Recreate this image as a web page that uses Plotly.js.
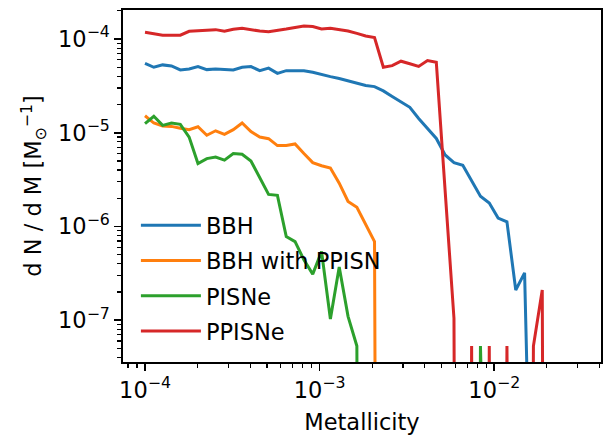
<!DOCTYPE html>
<html><head><meta charset="utf-8">
<script src="https://cdn.plot.ly/plotly-3.0.1.min.js"></script>
<style>html,body{margin:0;padding:0;background:#fff}</style>
</head><body>
<div id="chart" style="width:603px;height:435px"></div>
<script>
// Metallicity grid (x values)
const metallicity = [
  1.0000e-4, 1.1234e-4, 1.2621e-4, 1.4179e-4, 1.5929e-4, 1.7895e-4, 2.0104e-4, 2.2585e-4, 2.5373e-4, 2.8505e-4,
  3.2023e-4, 3.5976e-4, 4.0417e-4, 4.5405e-4, 5.1010e-4, 5.7306e-4, 6.4379e-4, 7.2325e-4, 8.1253e-4, 9.1282e-4,
  1.0255e-3, 1.1521e-3, 1.2943e-3, 1.4540e-3, 1.6335e-3, 1.8351e-3, 2.0616e-3, 2.3161e-3, 2.6019e-3, 2.9231e-3,
  3.2839e-3, 3.6892e-3, 4.1445e-3, 4.6561e-3, 5.2308e-3, 5.8764e-3, 6.6017e-3, 7.4166e-3, 8.3320e-3, 9.3604e-3,
  1.0516e-2, 1.1814e-2, 1.3272e-2, 1.4910e-2, 1.6750e-2, 1.8818e-2, 2.1141e-2, 2.3750e-2, 2.6681e-2, 3.0000e-2
];
const bbh = [
  5.5e-5, 5.0e-5, 5.3e-5, 5.16e-5, 4.68e-5, 4.8e-5, 5.08e-5, 4.72e-5, 4.8e-5, 4.75e-5,
  4.68e-5, 5.0e-5, 5.08e-5, 4.6e-5, 4.9e-5, 4.3e-5, 4.6e-5, 4.6e-5, 4.6e-5, 4.42e-5,
  4.17e-5, 3.97e-5, 3.79e-5, 3.6e-5, 3.39e-5, 3.19e-5, 3.11e-5, 2.8e-5, 2.44e-5, 2.12e-5,
  1.87e-5, 1.42e-5, 1.11e-5, 8.7e-6, 5.8e-6, 4.8e-6, 4.5e-6, 3.1e-6, 2.1e-6, 1.78e-6,
  1.23e-6, 1.12e-6, 2.1e-7, 3.2e-7, 0, 0, 0, 0, 0, 0
];
const bbhWithPpisn = [
  1.52e-5, 1.27e-5, 1.18e-5, 1.17e-5, 1.12e-5, 1.08e-5, 1.16e-5, 9.4e-6, 1.05e-5, 9.6e-6,
  1.08e-5, 1.27e-5, 1.03e-5, 9.0e-6, 8.65e-6, 7.3e-6, 7.3e-6, 7.6e-6, 6.0e-6, 4.8e-6,
  4.45e-6, 4.2e-6, 2.9e-6, 1.85e-6, 1.6e-6, 1.07e-6, 6.9e-7, 0, 0, 0,
  0, 0, 0, 0, 0, 0, 0, 0, 0, 0,
  0, 0, 0, 0, 0, 0, 0, 0, 0, 0
];
const pisne = [
  1.25e-5, 1.5e-5, 1.2e-5, 1.27e-5, 1.23e-5, 9.0e-6, 4.7e-6, 5.3e-6, 5.5e-6, 5.1e-6,
  6.0e-6, 5.9e-6, 5.0e-6, 3.3e-6, 2.2e-6, 2.15e-6, 7.8e-7, 6.9e-7, 4.4e-7, 3.1e-7,
  5.4e-7, 1.03e-7, 3.7e-7, 1.1e-7, 5.3e-8, 0, 0, 0, 0, 0,
  0, 0, 0, 0, 0, 0, 0, 0, 5.3e-8, 0,
  0, 0, 0, 0, 0, 0, 0, 0, 0, 0
];
const ppisne = [
  1.18e-4, 1.13e-4, 1.10e-4, 1.10e-4, 1.10e-4, 1.21e-4, 1.23e-4, 1.25e-4, 1.26e-4, 1.21e-4,
  1.27e-4, 1.30e-4, 1.25e-4, 1.22e-4, 1.20e-4, 1.23e-4, 1.28e-4, 1.33e-4, 1.38e-4, 1.36e-4,
  1.28e-4, 1.30e-4, 1.26e-4, 1.22e-4, 1.15e-4, 1.08e-4, 1.04e-4, 5.0e-5, 5.2e-5, 5.8e-5,
  5.45e-5, 5.1e-5, 5.9e-5, 5.65e-5, 2.4e-6, 1.05e-7, 0, 5.3e-8, 0, 5.3e-8,
  0, 5.3e-8, 0, 0, 5.3e-8, 2.1e-7, 0, 0, 0, 0
];
const seriesNames = ['BBH', 'BBH with PPISN', 'PISNe', 'PPISNe'];
const seriesColors = ['#1f77b4', '#ff7f0e', '#2ca02c', '#d62728'];
const xTickVals = [1e-4, 1e-3, 1e-2];
const xTickText = ['10<sup>\u22124</sup>', '10<sup>\u22123</sup>', '10<sup>\u22122</sup>'];
const yTickVals = [1e-7, 1e-6, 1e-5, 1e-4];
const yTickText = ['10<sup>\u22127</sup>', '10<sup>\u22126</sup>', '10<sup>\u22125</sup>', '10<sup>\u22124</sup>'];

// matplotlib log-scale 'clip': non-positive values go far below the axis
const clip = v => (v > 0 ? v : 1e-30);
const allSeries = [bbh, bbhWithPpisn, pisne, ppisne];
const traces = allSeries.map((s, i) => ({
  x: metallicity, y: s.map(clip), type: 'scatter', mode: 'lines',
  name: seriesNames[i], line: {color: seriesColors[i], width: 3},
  legendgroup: 'g' + i
}));

function minorVals(lo, hi) {
  const out = [];
  for (let d = lo; d <= hi; d++) for (let m = 2; m <= 9; m++) out.push(m * Math.pow(10, d));
  return out;
}

const font = {family: 'DejaVu Sans, sans-serif', size: 22.5, color: '#000'};
const layout = {
  width: 603, height: 435,
  margin: {l: 123, r: 2, t: 10, b: 73},
  paper_bgcolor: '#fff', plot_bgcolor: '#fff',
  font: font,
  showlegend: true,
  legend: {x: 0.027, y: 0.028, xanchor: 'left', yanchor: 'bottom', bgcolor: 'rgba(0,0,0,0)',
           font: font, itemwidth: 60, tracegroupgap: 3},
  xaxis: {
    type: 'log', range: [-4.126, -1.389],
    showline: true, mirror: true, linecolor: '#000', linewidth: 1.6,
    showgrid: false, zeroline: false,
    ticks: 'outside', ticklen: 7, tickwidth: 1.6, tickcolor: '#000',
    tickmode: 'array', tickvals: xTickVals, ticktext: xTickText,
    tickfont: font,
    minor: {tickmode: 'array', tickvals: minorVals(-5, -2), ticks: 'outside', ticklen: 4, tickwidth: 1.2, tickcolor: '#000', showgrid: false},
    title: {text: 'Metallicity', font: font, standoff: 17}
  },
  yaxis: {
    type: 'log', range: [-7.446, -3.69],
    showline: true, mirror: true, linecolor: '#000', linewidth: 1.6,
    showgrid: false, zeroline: false,
    ticks: 'outside', ticklen: 7, tickwidth: 1.6, tickcolor: '#000',
    tickmode: 'array', tickvals: yTickVals, ticktext: yTickText,
    tickfont: font,
    minor: {tickmode: 'array', tickvals: minorVals(-8, -4), ticks: 'outside', ticklen: 4, tickwidth: 1.2, tickcolor: '#000', showgrid: false},
    title: {text: 'd N / d M [M<sub>\u2299</sub><sup>\u22121</sup>]', font: font, standoff: 10}
  }
};
Plotly.newPlot('chart', traces, layout, {displayModeBar: false, staticPlot: true});
</script>
</body></html>
